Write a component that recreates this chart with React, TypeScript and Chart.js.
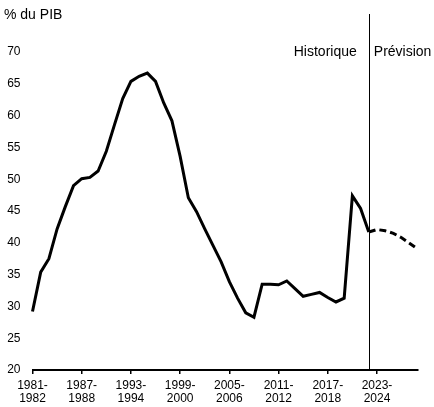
import React, { useEffect, useRef } from "react";
import { Chart, registerables } from "chart.js";

Chart.register(...registerables);

const categories: string[] = [
  "1981-1982", "1982-1983", "1983-1984", "1984-1985", "1985-1986", "1986-1987",
  "1987-1988", "1988-1989", "1989-1990", "1990-1991", "1991-1992", "1992-1993",
  "1993-1994", "1994-1995", "1995-1996", "1996-1997", "1997-1998", "1998-1999",
  "1999-2000", "2000-2001", "2001-2002", "2002-2003", "2003-2004", "2004-2005",
  "2005-2006", "2006-2007", "2007-2008", "2008-2009", "2009-2010", "2010-2011",
  "2011-2012", "2012-2013", "2013-2014", "2014-2015", "2015-2016", "2016-2017",
  "2017-2018", "2018-2019", "2019-2020", "2020-2021", "2021-2022", "2022-2023",
  "2023-2024", "2024-2025", "2025-2026", "2026-2027", "2027-2028", "2028-2029",
];

// Historique: 1981-1982 .. 2022-2023
const historique: number[] = [
  29.2, 35.4, 37.5, 42.2, 45.7, 49.0, 50.1, 50.3, 51.3, 54.4,
  58.6, 62.7, 65.4, 66.2, 66.7, 65.4, 62.0, 59.2, 53.6, 47.1,
  44.9, 42.2, 39.6, 37.0, 33.9, 31.3, 29.0, 28.3, 33.5, 33.5,
  33.4, 34.0, 32.8, 31.6, 31.9, 32.2, 31.4, 30.7, 31.3, 47.4,
  45.4, 41.7,
];

// Prévision: 2022-2023 .. 2028-2029
const prevision: number[] = [41.7, 42.1, 41.9, 41.5, 40.8, 39.9, 39.0];

const yTicks: number[] = [20, 25, 30, 35, 40, 45, 50, 55, 60, 65, 70];
const dividerCategory = "2022-2023";
const labelEvery = 6;

const FONT = "'Liberation Sans', Arial, sans-serif";

export default function App() {
  const ref = useRef<HTMLCanvasElement | null>(null);

  useEffect(() => {
    if (!ref.current) return;
    const startIdx = categories.indexOf(dividerCategory);
    const histData = categories.map((_, i) => (i < historique.length ? historique[i] : null));
    const prevData = categories.map((_, i) =>
      i >= startIdx && i - startIdx < prevision.length ? prevision[i - startIdx] : null
    );

    const annot = {
      id: "annot",
      afterDatasetsDraw(chart: any) {
        const { ctx, chartArea, scales } = chart;
        const x = scales.x.getPixelForValue(startIdx);
        const yText = scales.y.getPixelForValue(70);
        ctx.save();
        ctx.strokeStyle = "#000";
        ctx.lineWidth = 1;
        ctx.beginPath();
        ctx.moveTo(Math.round(x) + 0.5, chartArea.top);
        ctx.lineTo(Math.round(x) + 0.5, chartArea.bottom);
        ctx.stroke();
        ctx.fillStyle = "#000";
        ctx.font = `14px ${FONT}`;
        ctx.textBaseline = "middle";
        ctx.textAlign = "right";
        ctx.fillText("Historique", x - 12, yText);
        ctx.textAlign = "left";
        ctx.fillText("Prévision", x + 5, yText);
        ctx.fillText("% du PIB", 4, 15);
        ctx.restore();
      },
    };

    const chart = new Chart(ref.current, {
      type: "line",
      data: {
        labels: categories,
        datasets: [
          {
            label: "Historique",
            data: histData,
            borderColor: "#000",
            borderWidth: 3,
            pointRadius: 0,
            tension: 0,
            fill: false,
          },
          {
            label: "Prévision",
            data: prevData,
            borderColor: "#000",
            borderWidth: 3,
            borderDash: [7, 4],
            pointRadius: 0,
            tension: 0,
            fill: false,
          },
        ],
      },
      options: {
        responsive: false,
        animation: false,
        layout: { padding: { left: 7, right: 16, top: 14, bottom: 2 } },
        plugins: {
          legend: { display: false },
          tooltip: { enabled: false },
          title: { display: false },
        },
        scales: {
          x: {
            offset: false,
            grid: {
              display: true,
              drawOnChartArea: false,
              drawTicks: true,
              tickLength: 4,
              lineWidth: 1.5,
              tickColor: (c: any) => (c.index % labelEvery === 0 ? "#000" : "rgba(0,0,0,0)"),
            },
            border: { display: true, color: "#000", width: 2 },
            afterFit: (scale: any) => {
              scale.height = 35;
              scale.paddingLeft = 0;
              scale.paddingRight = 0;
            },
            ticks: {
              autoSkip: false,
              maxRotation: 0,
              minRotation: 0,
              padding: 5,
              color: "#000",
              font: { family: FONT, size: 12, lineHeight: 1.1 },
              callback: (_v: any, i: number) => {
                if (i % labelEvery !== 0) return "";
                const [a, b] = categories[i].split("-");
                return [a + "-", b];
              },
            },
          },
          y: {
            min: 20,
            max: 76,
            grid: { display: false, drawTicks: false },
            border: { display: false },
            afterBuildTicks: (scale: any) => {
              scale.ticks = yTicks.map((v) => ({ value: v }));
            },
            afterFit: (scale: any) => {
              scale.width = 25.5;
              scale.paddingTop = 0;
              scale.paddingBottom = 0;
            },
            ticks: {
              padding: 12,
              color: "#000",
              font: { family: FONT, size: 12 },
            },
          },
        },
      },
      plugins: [annot],
    });
    return () => chart.destroy();
  }, []);

  return (
    <canvas
      ref={ref}
      width={434}
      height={407}
      style={{ position: "absolute", left: 0, top: 0, width: 434, height: 407 }}
    />
  );
}
